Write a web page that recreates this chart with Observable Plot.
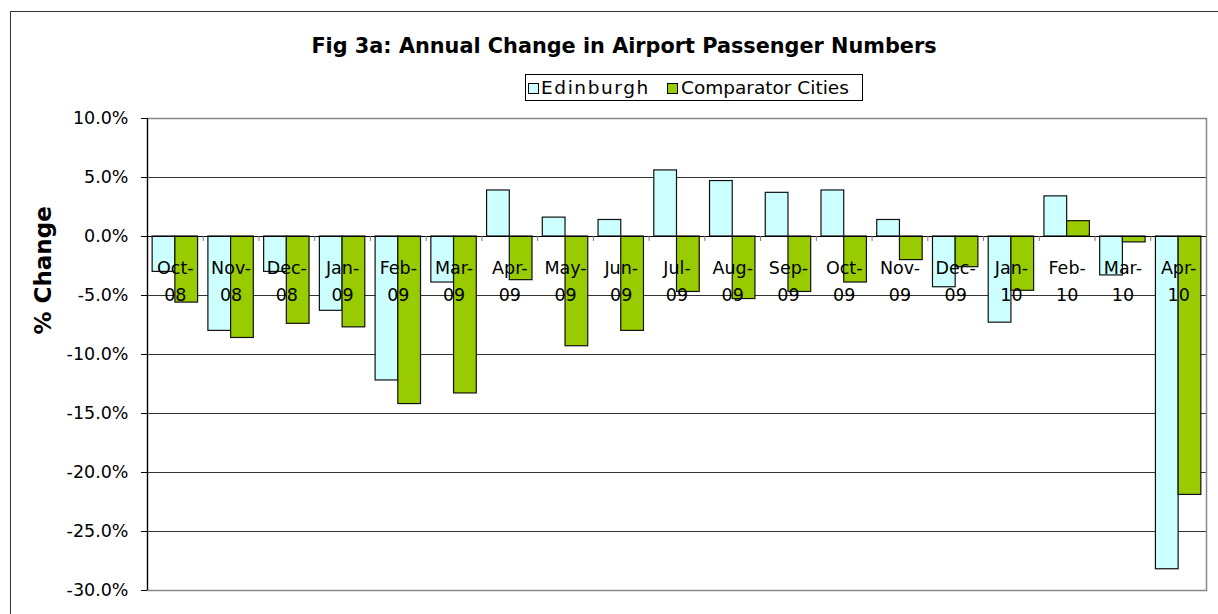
<!DOCTYPE html>
<html><head><meta charset="utf-8">
<script src="https://cdn.jsdelivr.net/npm/d3@7"></script>
<script src="https://cdn.jsdelivr.net/npm/@observablehq/plot@0.6"></script>
<style>
html,body{margin:0;padding:0;background:#fff;overflow:hidden;}
#wrap{position:relative;width:1218px;height:614px;overflow:hidden;font-family:"DejaVu Sans",sans-serif;color:#000;}
#border{position:absolute;left:10px;top:11px;width:1300px;height:800px;border-left:1.5px solid #333;border-top:1.5px solid #333;}
#title{position:absolute;left:0;width:1248px;top:33px;text-align:center;font-weight:bold;font-size:20.8px;line-height:26px;white-space:nowrap;}
#legend{position:absolute;left:525px;top:74px;width:338px;height:27px;box-sizing:border-box;border:1px solid #000;background:#fff;font-size:18.5px;white-space:nowrap;}
#legend .sw{position:absolute;top:8px;width:9px;height:9px;border:1px solid #000;}
#legend .tx{position:absolute;top:2px;line-height:22px;}
#chart{position:absolute;left:0;top:0;}
</style>
</head><body>
<div id="wrap">
  <div id="border"></div>
  <div id="chart"></div>
  <div id="title"></div>
  <div id="legend"></div>
</div>
<script>
const titleText = "Fig 3a: Annual Change in Airport Passenger Numbers";
const yLabel = "% Change";
const seriesNames = ["Edinburgh", "Comparator Cities"];
const seriesColors = ["#CCFFFF", "#99CC00"];
const months = ["Oct-08","Nov-08","Dec-08","Jan-09","Feb-09","Mar-09","Apr-09","May-09","Jun-09","Jul-09","Aug-09","Sep-09","Oct-09","Nov-09","Dec-09","Jan-10","Feb-10","Mar-10","Apr-10"];
const edinburgh = [-3.0, -8.0, -3.0, -6.3, -12.2, -3.9, 3.9, 1.6, 1.4, 5.6, 4.7, 3.7, 3.9, 1.4, -4.3, -7.3, 3.4, -3.3, -28.2];
const comparator = [-5.6, -8.6, -7.4, -7.7, -14.2, -13.3, -3.7, -9.3, -8.0, -4.7, -5.3, -4.7, -3.9, -2.0, -2.6, -4.6, 1.3, -0.5, -21.9];
const yTicks = [-30, -25, -20, -15, -10, -5, 0, 5, 10];
const gridValues = [5, -5, -10, -15, -20, -25];

document.getElementById("title").textContent = titleText;
const leg = document.getElementById("legend");
const legendLayout = [{sw: 2, tx: 15, ls: "1.6px"}, {sw: 141, tx: 155, ls: "0px"}];
seriesNames.forEach((n, i) => {
  const sw = document.createElement("span"); sw.className = "sw";
  sw.style.background = seriesColors[i]; sw.style.left = legendLayout[i].sw + "px";
  const tx = document.createElement("span"); tx.className = "tx"; tx.textContent = n;
  tx.style.left = legendLayout[i].tx + "px"; tx.style.letterSpacing = legendLayout[i].ls;
  leg.appendChild(sw); leg.appendChild(tx);
});

const W = 1218, H = 614, mL = 147, mR = 12, mT = 118, mB = 24;
const padInner = 0.185, padOuter = padInner / 2;
const step = (W - mL - mR) / months.length;
const band = step * (1 - padInner);
const half = band / 2;

const edData = months.map((m, i) => ({month: m, value: edinburgh[i]}));
const cpData = months.map((m, i) => ({month: m, value: comparator[i]}));

const chart = Plot.plot({
  width: W, height: H,
  marginLeft: mL, marginRight: mR, marginTop: mT, marginBottom: mB,
  style: {fontFamily: "DejaVu Sans, sans-serif", fontSize: "17.5px", color: "#000", background: "transparent"},
  x: {type: "band", domain: months, paddingInner: padInner, paddingOuter: padOuter, round: false, axis: null},
  y: {domain: [-30, 10], axis: null},
  marks: [
    Plot.ruleY(gridValues, {stroke: "#333", strokeWidth: 1}),
    Plot.frame({stroke: "#888", strokeWidth: 1.5}),
    Plot.barY(edData, {x: "month", y: "value", fill: seriesColors[0], stroke: "#111", strokeWidth: 1.2, insetRight: half}),
    Plot.barY(cpData, {x: "month", y: "value", fill: seriesColors[1], stroke: "#111", strokeWidth: 1.2, insetLeft: half}),
    Plot.ruleY([0], {stroke: "#000", strokeWidth: 1}),
    Plot.ruleX(months.slice(1), {x: d => d, y1: 0, y2: -0.42, dx: -step / 2, stroke: "#777", strokeWidth: 1}),
    Plot.ruleX([months[0]], {dx: -step / 2, stroke: "#000", strokeWidth: 1.2}),
    Plot.axisY({ticks: yTicks, tickFormat: d => d.toFixed(1) + "%", tickSize: 6, tickPadding: 13, fontSize: 17.5, label: null, stroke: "#000"}),
    Plot.text(months, {x: d => d, y: () => 0, text: d => d.replace("-", "-\n"), lineAnchor: "top", lineHeight: 1.55, dy: 18, fontSize: 17.5, fill: "#000"}),
    Plot.text([yLabel], {text: d => d, frameAnchor: "left", rotate: -90, dx: -104, dy: -20, fontWeight: "bold", fontSize: 23, fill: "#000"})
  ]
});
document.getElementById("chart").appendChild(chart);
</script>
</body></html>
